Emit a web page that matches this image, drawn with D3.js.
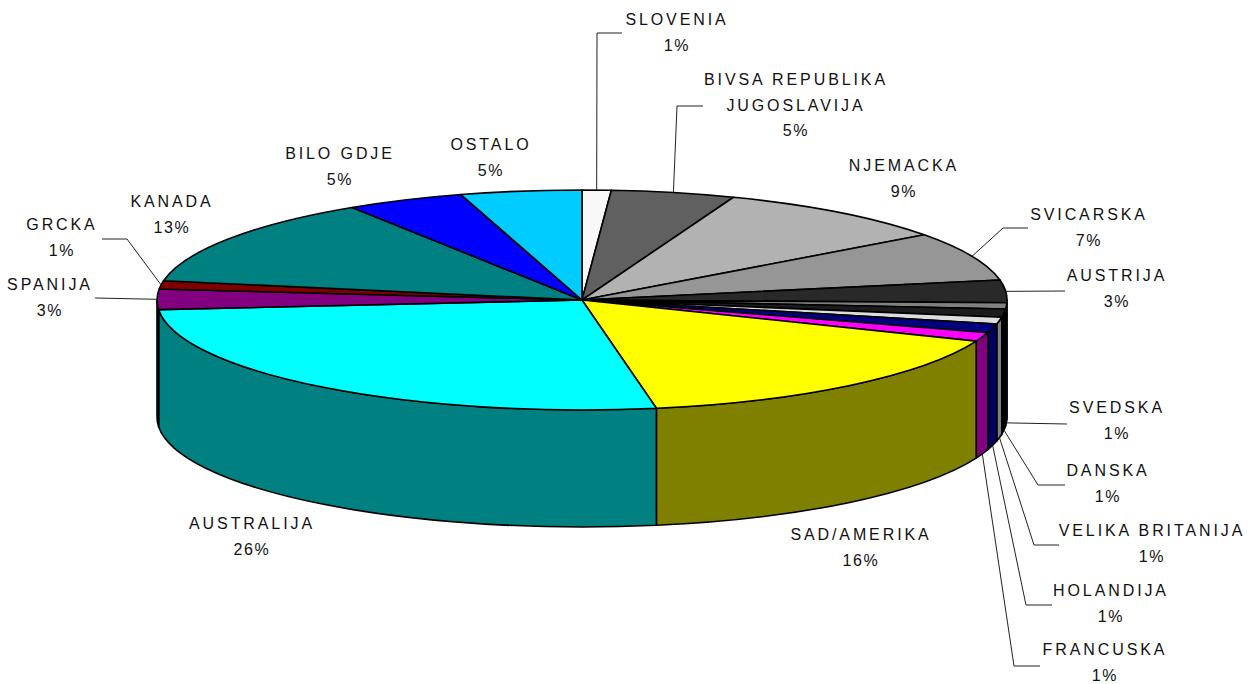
<!DOCTYPE html>
<html lang="en">
<head>
<meta charset="UTF-8">
<title>Pie</title>
<script src="https://cdn.jsdelivr.net/npm/d3@7"></script>
<style>
  html, body { margin: 0; padding: 0; background: #fff; }
  text { font-family: "Liberation Sans", Arial, sans-serif; font-size: 16px; fill: #111; text-anchor: middle; }
</style>
</head>
<body>
<svg id="chart" width="1258" height="684"></svg>
<script>
const countries = ["SLOVENIA", "BIVSA REPUBLIKA|JUGOSLAVIJA", "NJEMACKA", "SVICARSKA", "AUSTRIJA", "SVEDSKA", "DANSKA",
  "VELIKA BRITANIJA", "HOLANDIJA", "FRANCUSKA", "SAD/AMERIKA", "AUSTRALIJA", "SPANIJA", "GRCKA", "KANADA", "BILO GDJE", "OSTALO"];
const shares = [1.1, 4.7, 9.1, 7.2, 3.3, 0.9, 1.2, 1.0, 1.3, 1.3, 16.1, 26.4, 3.0, 1.2, 13.1, 4.5, 4.6];
const shownPct = [1, 5, 9, 7, 3, 1, 1, 1, 1, 1, 16, 26, 3, 1, 13, 5, 5];

const topColors = ["#f8f8f8", "#606060", "#b2b2b2", "#969696", "#292929", "#808080", "#1c1c1c",
  "#dddddd", "#000080", "#ff00ff", "#ffff00", "#00ffff", "#800080", "#800000", "#008080", "#0000ff", "#00ccff"];
const sideColors = ["#7c7c7c", "#303030", "#595959", "#4b4b4b", "#141414", "#404040", "#000000",
  "#808080", "#000060", "#800080", "#808000", "#008080", "#400040", "#400000", "#004040", "#000080", "#006680"];

// label centre x, y of first text line
const labelPos = [[677, 25], [796, 85], [904, 171], [1089, 220], [1117, 281], [1117, 413], [1108, 476],
  [1152, 536], [1111, 596], [1105, 655], [861, 540], [252, 529], [50, 290], [62, 230], [172, 207], [340, 159], [491, 150]];

// leader lines: elbow and end, only for the labels that have one
const leaders = {
  "SLOVENIA": [[597, 33], [622, 33]],
  "BIVSA REPUBLIKA|JUGOSLAVIJA": [[677, 106], [703, 106]],
  "SVICARSKA": [[1003, 228], [1028, 228]],
  "AUSTRIJA": [[1065, 291]],
  "SVEDSKA": [[1067, 424]],
  "DANSKA": [[1038, 485], [1065, 485]],
  "VELIKA BRITANIJA": [[1034, 545], [1059, 545]],
  "HOLANDIJA": [[1026, 605], [1052, 605]],
  "FRANCUSKA": [[1014, 666], [1040, 666]],
  "SPANIJA": [[95, 298]],
  "GRCKA": [[127, 239], [102, 239]]
};

const x = d3.scaleLinear().domain([-1, 1]).range([157, 1007]);
const y = d3.scaleLinear().domain([-1, 1]).range([190, 410]);
const rx = (x(1) - x(-1)) / 2, ry = (y(1) - y(-1)) / 2;
const depth = 117;

const svg = d3.select("#chart");
const arcs = d3.pie().sort(null).value(i => shares[i])(d3.range(shares.length));

const px = a => x(Math.sin(a));
const py = a => y(-Math.cos(a));

function wedge(a0, a1) {
  const large = a1 - a0 > Math.PI ? 1 : 0;
  return `M${x(0)},${y(0)}L${px(a0)},${py(a0)}A${rx},${ry} 0 ${large} 1 ${px(a1)},${py(a1)}Z`;
}

function wall(a0, a1) {
  const s = Math.max(a0, Math.PI / 2), e = Math.min(a1, Math.PI * 1.5);
  if (s >= e) return null;
  return `M${px(s)},${py(s)}A${rx},${ry} 0 0 1 ${px(e)},${py(e)}` +
    `L${px(e)},${py(e) + depth}A${rx},${ry} 0 0 0 ${px(s)},${py(s) + depth}Z`;
}

// side walls first, the top goes over them
svg.append("g").selectAll("path")
  .data(arcs.filter(d => wall(d.startAngle, d.endAngle)))
  .join("path")
  .attr("d", d => wall(d.startAngle, d.endAngle))
  .attr("fill", d => sideColors[d.data])
  .attr("stroke", "#000").attr("stroke-width", 1.6).attr("stroke-linejoin", "round");

svg.append("g").selectAll("path")
  .data(arcs)
  .join("path")
  .attr("d", d => wedge(d.startAngle, d.endAngle))
  .attr("fill", d => topColors[d.data])
  .attr("stroke", "#000").attr("stroke-width", 1.6).attr("stroke-linejoin", "round");

// leader lines start at the slice middle on the outer rim
svg.append("g").selectAll("polyline")
  .data(arcs.filter(d => leaders[countries[d.data]]))
  .join("polyline")
  .attr("points", d => {
    const mid = (d.startAngle + d.endAngle) / 2;
    const front = mid > Math.PI / 2 && mid < Math.PI * 1.5;
    const start = [px(mid), py(mid) + (front ? depth : 0)];
    return [start, ...leaders[countries[d.data]]].join(" ");
  })
  .attr("fill", "none").attr("stroke", "#222").attr("stroke-width", 1);

const labels = svg.append("g").selectAll("text")
  .data(countries)
  .join("text")
  .attr("transform", (d, i) => `translate(${labelPos[i]})`);

labels.each(function (d, i) {
  const lines = d.split("|").map(t => ({ t, spaced: true })).concat({ t: shownPct[i] + "%", spaced: false });
  d3.select(this).selectAll("tspan")
    .data(lines)
    .join("tspan")
    .attr("x", 0)
    .attr("dy", (l, k) => k ? 25.6 : 0)
    .attr("letter-spacing", l => l.spaced ? 2.9 : 1.6)
    .text(l => l.t);
});
</script>
</body>
</html>
